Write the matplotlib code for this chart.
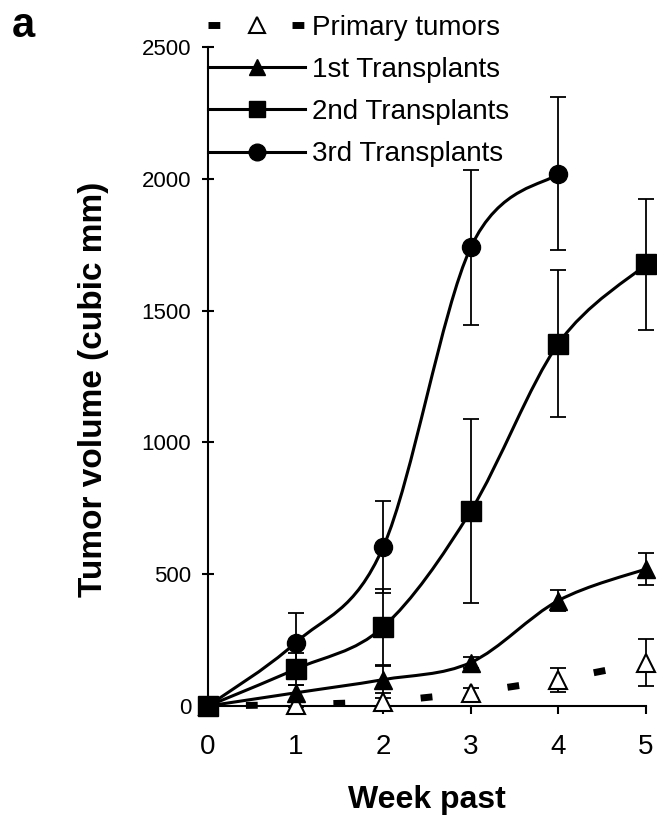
import matplotlib
matplotlib.use("Agg")
import matplotlib.pyplot as plt
from matplotlib.path import Path
from matplotlib.patches import PathPatch
from matplotlib.lines import Line2D

plt.rcParams['font.family'] = ['Liberation Sans', 'DejaVu Sans']
plt.rcParams['lines.scale_dashes'] = False

weeks = [0, 1, 2, 3, 4, 5]

primary = [0, 5, 15, 50, 100, 165]
primary_err = [0, 10, 15, 20, 45, 90]

first = [0, 50, 100, 165, 400, 520]
first_err = [0, 30, 50, 20, 40, 60]

second = [0, 140, 300, 740, 1375, 1675]
second_err = [0, 60, 145, 350, 280, 250]

# 3rd transplants stop at week 4
third_weeks = [0, 1, 2, 3, 4]
third = [0, 240, 603, 1740, 2020]
third_err = [0, 113, 175, 295, 290]

labels = ['Primary tumors', '1st Transplants', '2nd Transplants', '3rd Transplants']


def smooth_path(xs, ys):
    # Excel style smoothed line: cubic bezier segments through the points
    pts = list(zip(xs, ys))
    n = len(pts)
    verts = [pts[0]]
    codes = [Path.MOVETO]
    for i in range(n - 1):
        p0 = pts[max(i - 1, 0)]
        p1 = pts[i]
        p2 = pts[i + 1]
        p3 = pts[min(i + 2, n - 1)]
        c1 = (p1[0] + (p2[0] - p0[0]) / 6, p1[1] + (p2[1] - p0[1]) / 6)
        c2 = (p2[0] - (p3[0] - p1[0]) / 6, p2[1] - (p3[1] - p1[1]) / 6)
        verts += [c1, c2, p2]
        codes += [Path.CURVE4] * 3
    return Path(verts, codes)


fig = plt.figure(figsize=(6.57, 8.19), dpi=100)
ax = fig.add_axes([208 / 657, 1 - 706 / 819, 438 / 657, 659 / 819])

lw = 2.2
# primary tumors: thick dashed straight line, open triangles
ax.plot(weeks, primary, color='black', lw=5, linestyle=(35.7, (8.5, 54.5)),
        dash_capstyle='butt', zorder=2, clip_on=False)
ax.errorbar(weeks, primary, yerr=primary_err, fmt='none', ecolor='black',
            elinewidth=1.3, capsize=6, capthick=1.3, zorder=3, clip_on=False)
ax.plot(weeks, primary, linestyle='none', marker='^', ms=13, mfc='white', mec='black',
        mew=1.5, zorder=4, clip_on=False)

series = [
    (weeks, first, first_err, '^', 13),
    (weeks, second, second_err, 's', 14),
    (third_weeks, third, third_err, 'o', 13),
]
for xs, ys, err, mk, ms in series:
    ax.add_patch(PathPatch(smooth_path(xs, ys), fill=False, edgecolor='black',
                           lw=lw, zorder=5, clip_on=False))
    ax.errorbar(xs, ys, yerr=err, fmt='none', ecolor='black', elinewidth=1.3,
                capsize=6, capthick=1.3, zorder=6, clip_on=False)
    ax.plot(xs, ys, linestyle='none', marker=mk, ms=ms, color='black', zorder=7,
            clip_on=False)

ax.set_xlim(0, 5)
ax.set_ylim(0, 2500)
ax.set_xticks(weeks)
ax.set_yticks([0, 500, 1000, 1500, 2000, 2500])
for s in ['top', 'right']:
    ax.spines[s].set_visible(False)
for s in ['left', 'bottom']:
    ax.spines[s].set_linewidth(1.5)
ax.tick_params(axis='x', direction='out', length=6, width=1.5, pad=14, labelsize=20)
ax.tick_params(axis='y', direction='inout', length=8, width=1.5, pad=8, labelsize=16)

ax.set_xlabel('Week past', fontsize=23, fontweight='bold', labelpad=18)
ax.set_ylabel('Tumor volume (cubic mm)', fontsize=24, fontweight='bold')
ax.yaxis.set_label_coords(-0.225, 0.48)

fig.text(12 / 657, 1 - 37 / 819, 'a', fontsize=30, fontweight='bold')

handles = [
    Line2D([], [], color='black', lw=5, linestyle=(0, (8.5, 52)), marker='^', ms=11,
           mfc='white', mec='black', mew=1.5, dash_capstyle='butt'),
    Line2D([], [], color='black', lw=lw, marker='^', ms=12),
    Line2D([], [], color='black', lw=lw, marker='s', ms=12),
    Line2D([], [], color='black', lw=lw, marker='o', ms=12),
]
fig.legend(handles, labels, loc='upper left', bbox_to_anchor=(208 / 657, 1 - 15 / 819),
           frameon=False, fontsize=20, handlelength=3.5, handletextpad=0.25,
           labelspacing=0.58, borderpad=0, borderaxespad=0, numpoints=1)

fig.savefig('out.png', dpi=100)
